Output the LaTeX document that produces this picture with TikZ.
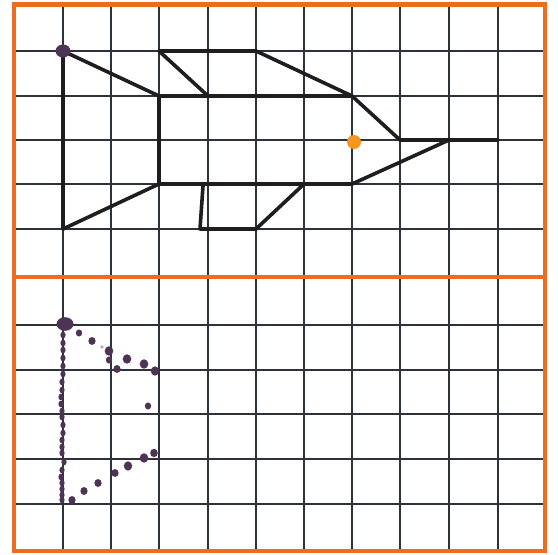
\documentclass[tikz,border=0pt]{standalone}
\definecolor{gridc}{RGB}{45,50,58}
\definecolor{orng}{RGB}{238,108,32}
\definecolor{figc}{RGB}{30,30,32}
\definecolor{purp}{RGB}{78,52,84}
\definecolor{dotor}{RGB}{246,150,30}
\begin{document}
\begin{tikzpicture}[x=0.75pt,y=-0.75pt,
  gridline/.style={gridc,line width=0.95pt},
  border/.style={orng,line width=3.4pt},
  shapeline/.style={figc,line width=2.7pt,line cap=round,line join=round},
  hdot/.style={purp}]
\useasboundingbox (0,0) rectangle (558,555);
\fill[white] (0,0) rectangle (558,555);
% grid
\foreach \x in {63,111,159,208,256,304,352,400,449,498}
  \draw[gridline] (\x,4.5) -- (\x,551);
\foreach \y in {51,96,140,184,229,325,370,414,459,504}
  \draw[gridline] (14,\y) -- (545,\y);
% orange frames
\draw[border] (14,4.5) rectangle (545,551);
\draw[border] (14,277) -- (545,277);
% top figure points
\coordinate (A) at (63,51);
\coordinate (B) at (63,229);
\coordinate (C) at (159,96);
\coordinate (D) at (159,184);
\coordinate (E) at (159,51);
\coordinate (F) at (256,51);
\coordinate (G) at (208,96);
\coordinate (H) at (352,96);
\coordinate (I) at (400,140);
\coordinate (J) at (498,140);
\coordinate (K) at (449,140);
\coordinate (L) at (352,184);
\coordinate (M) at (304,184);
\coordinate (N) at (256,229);
\coordinate (P) at (200,229);
\coordinate (Q) at (203,186);
\coordinate (O) at (354,142);
\draw[shapeline] (A) -- (B) -- (D) -- (C) -- cycle;
\draw[shapeline] (G) -- (E) -- (F) -- (H);
\draw[shapeline] (C) -- (H) -- (I) -- (J);
\draw[shapeline] (K) -- (L) -- (D);
\draw[shapeline] (M) -- (N) -- (P) -- (Q);
\fill[hdot] (A) ellipse [x radius=7.5, y radius=6.5];
\fill[dotor] (O) circle [radius=7];
% bottom hand-drawn dots
\coordinate (A2) at (65,324);
\fill[hdot] (A2) ellipse [x radius=8.5, y radius=6.8];
\foreach \p in {(63,335),(63,343),(63,350),(63,358),(63,366),(63,374),(62,382),(62,390),(61,397),(61,404),(62,411),(62,417),(63,425),(63,433),(62,440),(62,447),(62,453),(64,462),(62,470),(61,477),(62,483),(62,489),(62,495),(62,500)}
  \fill[hdot] \p ellipse [x radius=2.6, y radius=3.4];
\foreach \p/\r in {(79,333)/3.2,(92,341)/3.6,(109,351)/4.3,(109,360)/3.2,(117,369)/3.6,(127,359)/4.3,(144,364)/4.3,(155,371)/4.2,(148,406)/3.2,(72,500)/3.6,(84,491)/3.6,(98,483)/3.6,(115,473)/3.6,(128,466)/4.2,(144,458)/4.3,(154,453)/3.8}
  \fill[hdot] \p ellipse [x radius=\r, y radius=1.1*\r];
\fill[purp!40] (102,347) circle [radius=1.8];
\end{tikzpicture}
\end{document}
